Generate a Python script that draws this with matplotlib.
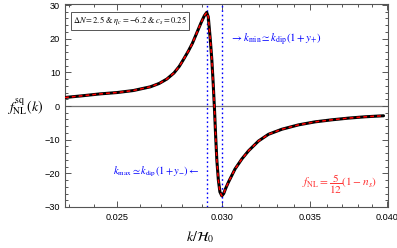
import matplotlib
matplotlib.use("Agg")
import matplotlib.pyplot as plt
from matplotlib.ticker import FixedLocator, NullFormatter, FixedFormatter

plt.rcParams['mathtext.fontset'] = 'stix'
plt.rcParams['font.family'] = ['Liberation Sans', 'DejaVu Sans']

# data
k_vals = [0.02283, 0.02292, 0.02348, 0.02427, 0.02500, 0.02572, 0.02649, 0.02690,
          0.02726, 0.02760, 0.02786, 0.02806, 0.02830, 0.02850, 0.02874, 0.02894,
          0.02910, 0.02922, 0.02930, 0.02940, 0.02948, 0.02955, 0.02962, 0.02968,
          0.02974, 0.02982, 0.02990, 0.03000, 0.03010, 0.03020, 0.03035, 0.03070,
          0.03107, 0.03143, 0.03198, 0.03254, 0.03331, 0.03429, 0.03530, 0.03634,
          0.03740, 0.03851, 0.03976]
f_vals = [2.5, 2.6, 3.0, 3.6, 4.0, 4.6, 5.7, 6.7,
          8.0, 9.8, 11.8, 13.8, 16.3, 18.6, 22.0, 24.8,
          26.8, 27.8, 26.5, 20.0, 14.0, 7.0, -1.0, -9.0,
          -16.0, -22.0, -25.5, -26.7, -26.0, -24.5, -22.6, -18.7,
          -15.7, -13.3, -10.4, -8.4, -6.9, -5.6, -4.7, -4.1,
          -3.6, -3.2, -2.9]
k_lines = [0.02922, 0.03002]
x_ticks = [0.025, 0.030, 0.035, 0.040]
x_ticklabels = ["0.025", "0.030", "0.035", "0.040"]
y_ticks = [-30, -20, -10, 0, 10, 20, 30]
y_ticklabels = ["\u221230", "\u221220", "\u221210", "0", "10", "20", "30"]

fig = plt.figure(figsize=(3.97, 2.48), dpi=100)
ax = fig.add_axes([65/397, 1-207/248, (388-65)/397, (207-4)/248])
ax.set_xscale('log')
ax.set_xlim(0.02283, 0.04007)
ax.set_ylim(-30, 30.3)

ax.axhline(0, color='#777777', lw=0.9, zorder=1)
for kl in k_lines:
    ax.axvline(kl, color='blue', ls=(0, (1.2, 2.0)), lw=1.0, zorder=2)

ax.plot(k_vals, f_vals, color='black', lw=2.2, zorder=3, solid_capstyle='round')
ax.plot(k_vals, f_vals, color='red', lw=1.1, ls=(0, (2.5, 2.0)), zorder=4)

ax.xaxis.set_major_locator(FixedLocator(x_ticks))
ax.xaxis.set_major_formatter(FixedFormatter(x_ticklabels))
ax.xaxis.set_minor_locator(FixedLocator([0.023 + 0.001*i for i in range(18)]))
ax.xaxis.set_minor_formatter(NullFormatter())
ax.yaxis.set_major_locator(FixedLocator(y_ticks))
ax.yaxis.set_major_formatter(FixedFormatter(y_ticklabels))
ax.yaxis.set_minor_locator(FixedLocator(list(range(-30, 31, 2))))

ax.tick_params(which='both', direction='in', top=True, right=True, colors='#555555',
               labelcolor='black', labelsize=6.6, width=0.7)
ax.tick_params(which='major', length=4)
ax.tick_params(which='minor', length=2)
ax.tick_params(axis='x', pad=4)
for s in ax.spines.values():
    s.set_color('#555555')
    s.set_linewidth(0.8)

ax.text(0.02316, 25.3, r'$\Delta N=2.5$ & $\eta_c=-6.2$ & $c_s=0.25$', fontsize=6.0,
        va='center', ha='left', family=['STIXGeneral', 'DejaVu Serif'],
        bbox=dict(boxstyle='square,pad=0.3', fc='white', ec='#555555', lw=0.7))
ax.text(0.03044, 19.7, r'$\rightarrow k_{\rm min}\simeq k_{\rm dip}(1+y_{+})$', color='blue',
        fontsize=7.8, va='center', ha='left')
ax.text(0.02889, -19.6, r'$k_{\rm max}\simeq k_{\rm dip}(1+y_{-})\leftarrow$', color='blue',
        fontsize=7.5, va='center', ha='right')
ax.text(0.03451, -23.1, r'$f_{\rm NL}=\dfrac{5}{12}(1-n_s)$', color='#ff3333',
        fontsize=8.2, va='center', ha='left')

fig.text(25/397, 1-107/248, r'$f_{\rm NL}^{\rm sq}(k)$', fontsize=10, ha='center', va='center')
fig.text(200/397, 1-237/248, r'$k/\mathcal{H}_0$', fontsize=10, ha='center', va='center')

fig.savefig('out.png', dpi=100)
